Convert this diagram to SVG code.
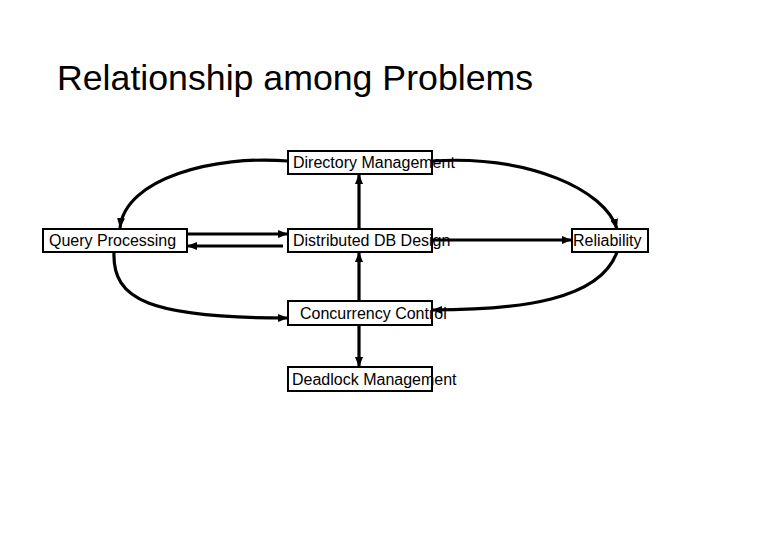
<svg xmlns="http://www.w3.org/2000/svg" width="780" height="540" viewBox="0 0 780 540">
<style>
.box{fill:#fff;stroke:#000;stroke-width:2}
.lbl{font-family:"Liberation Sans",Arial,sans-serif;font-size:16px;fill:#000}
.title{font-family:"Liberation Sans",Arial,sans-serif;font-size:35.7px;fill:#000}
.c{fill:none;stroke:#000;stroke-width:3.2;marker-end:url(#ah)}
</style>
<defs>
<marker id="ah" markerUnits="userSpaceOnUse" markerWidth="10" markerHeight="10" viewBox="0 0 10 10" refX="10" refY="5" orient="auto">
<path d="M0,1 L10,5 L0,9 z" fill="#000"/>
</marker>
</defs>
<rect width="780" height="540" fill="#fff"/>
<text class="title" x="57" y="90">Relationship among Problems</text>
<g id="dir-mgmt"><rect class="box" x="288" y="151" width="144" height="23"/><text class="lbl" x="293" y="168">Directory Management</text></g>
<g id="query-proc"><rect class="box" x="43" y="229" width="144" height="23"/><text class="lbl" x="49" y="246">Query Processing</text></g>
<g id="ddb-design"><rect class="box" x="288" y="229" width="144" height="23"/><text class="lbl" x="293" y="246">Distributed DB Design</text></g>
<g id="reliability"><rect class="box" x="572" y="229" width="76" height="23"/><text class="lbl" x="573" y="246">Reliability</text></g>
<g id="concurrency"><rect class="box" x="288" y="301" width="144" height="24"/><text class="lbl" x="300" y="319">Concurrency Control</text></g>
<g id="deadlock"><rect class="box" x="288" y="367" width="144" height="24"/><text class="lbl" x="292" y="385">Deadlock Management</text></g>
<g id="connectors">
<path class="c" d="M288,161 C215,155 125,178 120,228"/>
<path class="c" d="M432,161 C530,155 605,190 617,229"/>
<path class="c" d="M187,234 L288,234"/>
<path class="c" d="M283,246 L187,246"/>
<path class="c" d="M359,229 L359,174"/>
<path class="c" d="M432,240 L572,240"/>
<path class="c" d="M359,301 L359,252"/>
<path class="c" d="M359,325 L359,367"/>
<path class="c" d="M114,252 C112,300 150,318 288,318"/>
<path class="c" d="M617,252 C600,300 520,310 432,310"/>
</g>
</svg>
